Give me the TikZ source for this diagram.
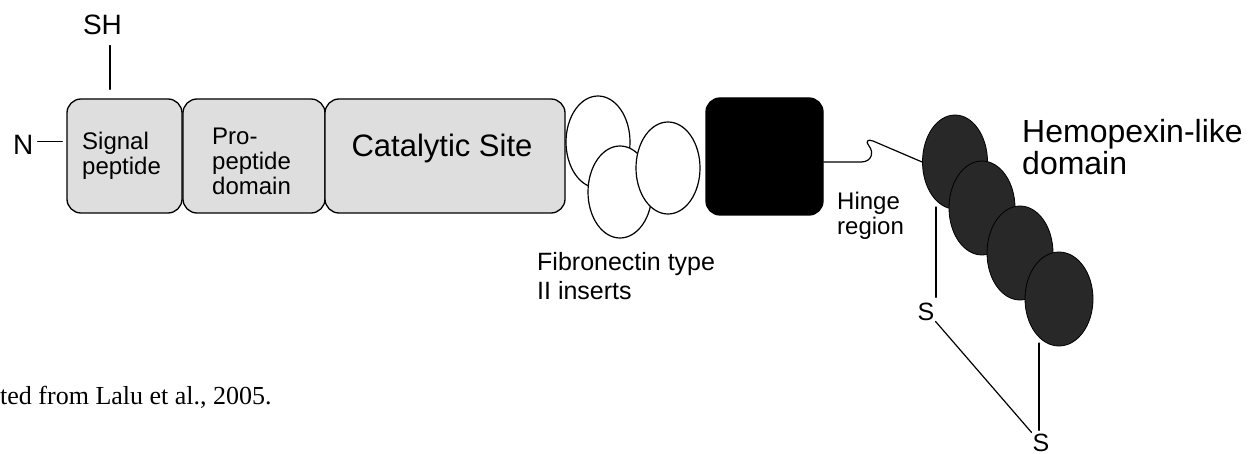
\documentclass[tikz,border=0pt]{standalone}
\usepackage{fontspec}
\setmainfont{Liberation Sans}
\newfontfamily\citefont{Liberation Serif}
\usepackage{tikz}
\usetikzlibrary{positioning, shapes.geometric, calc}
\definecolor{domaingray}{RGB}{222, 222, 222}
\definecolor{hemogray}{RGB}{40, 40, 40}
\tikzset{every path/.style={line cap=round, line join=round}}

\begin{document}
\begin{tikzpicture}[
    x=1pt, y=-1pt,
    protbox/.style={
        draw=black,
        fill=domaingray,
        line width=1.3pt,
        rounded corners=14pt,
        minimum height=114pt,
        inner sep=0pt
    },
    fnsite/.style={ellipse, draw=black, fill=white, line width=1.2pt,
        minimum width=64pt, minimum height=92pt, inner sep=0pt},
    hemo/.style={ellipse, draw=black, fill=hemogray, line width=0.8pt,
        minimum width=66pt, minimum height=94pt, inner sep=0pt},
    txt/.style={inner sep=0pt, align=left, font=\fontsize{24}{25}\selectfont},
    bigtxt/.style={txt, font=\fontsize{32}{32}\selectfont},
    sulfur/.style={inner sep=1pt, font=\fontsize{25}{25}\selectfont},
    bond/.style={draw=black, line width=1.2pt}
]
\useasboundingbox (0,0) rectangle (1253,454);

\node[protbox, minimum width=115pt] (signal) at (124.5,156) {};
\node[protbox, minimum width=142pt] (propep) at (254,156) {};
\node[protbox, minimum width=240pt] (catalytic) at (445,156) {};
\node[protbox, fill=black, minimum width=117pt, minimum height=117pt] (blackbox) at (764.5,156.5) {};

\node[txt, anchor=north west] (signaltxt) at (82,132) {Signal\\peptide};
\node[txt, anchor=north west] (propeptxt) at (212,128) {Pro-\\peptide\\domain};
\node[txt, anchor=base, font=\fontsize{31}{31}\selectfont] (catalytictxt) at (442,157) {Catalytic Site};

\node[fnsite] (fn1) at (598,142) {};
\node[fnsite] (fn2) at (620,192) {};
\node[fnsite] (fn3) at (668,168) {};
\node[txt, anchor=north west, font=\fontsize{25}{29}\selectfont] (fntxt) at (537,252) {Fibronectin type\\II inserts};

\node[hemo, minimum width=65pt] (hemo1) at (955,162) {};
\node[hemo] (hemo2) at (982,208) {};
\node[hemo] (hemo3) at (1020,253) {};
\node[hemo, minimum width=68pt] (hemo4) at (1059,299) {};
\node[bigtxt, anchor=north west] (hemotxt) at (1022,119) {Hemopexin-like\\domain};
\node[txt, anchor=north west] (hingetxt) at (837,192) {Hinge\\region};

\node[txt, anchor=base, font=\fontsize{28}{28}\selectfont] (sh) at (102.5,35) {SH};
\node[txt, anchor=base west, font=\fontsize{28}{28}\selectfont] (nterm) at (13,155) {N};

\node[sulfur, anchor=base] (s1) at (926,320) {S};
\node[sulfur, anchor=base] (s2) at (1041,451) {S};

\node[inner sep=0pt, anchor=base west, font=\citefont\fontsize{26}{26}\selectfont] (cite) at (0,404) {ted from Lalu et al., 2005.};

\coordinate (shx) at (110,60);
\draw[bond, shorten <=10pt, shorten >=9pt] (sh.south -| shx) -- (shx |- signal.north);
\draw[bond, shorten <=4pt, shorten >=4pt] ([yshift=4pt]nterm.east) -- ([yshift=4pt]nterm.east -| signal.west);

\draw[bond] (blackbox.east |- hemo1.west) -- (861,162)
    .. controls (872,162) and (874,152) .. (869,146)
    .. controls (865,141) and (868,139) .. (873,141) -- (hemo1.west);

\coordinate (ssA) at (936,207);
\coordinate (ssB) at (1039,343);
\draw[bond, shorten >=4pt] (ssA) -- (ssA |- s1.north);
\draw[bond] (s1.south east) -- (s2.north west);
\draw[bond, shorten >=2pt] (ssB) -- (ssB |- s2.north);

\end{tikzpicture}
\end{document}
